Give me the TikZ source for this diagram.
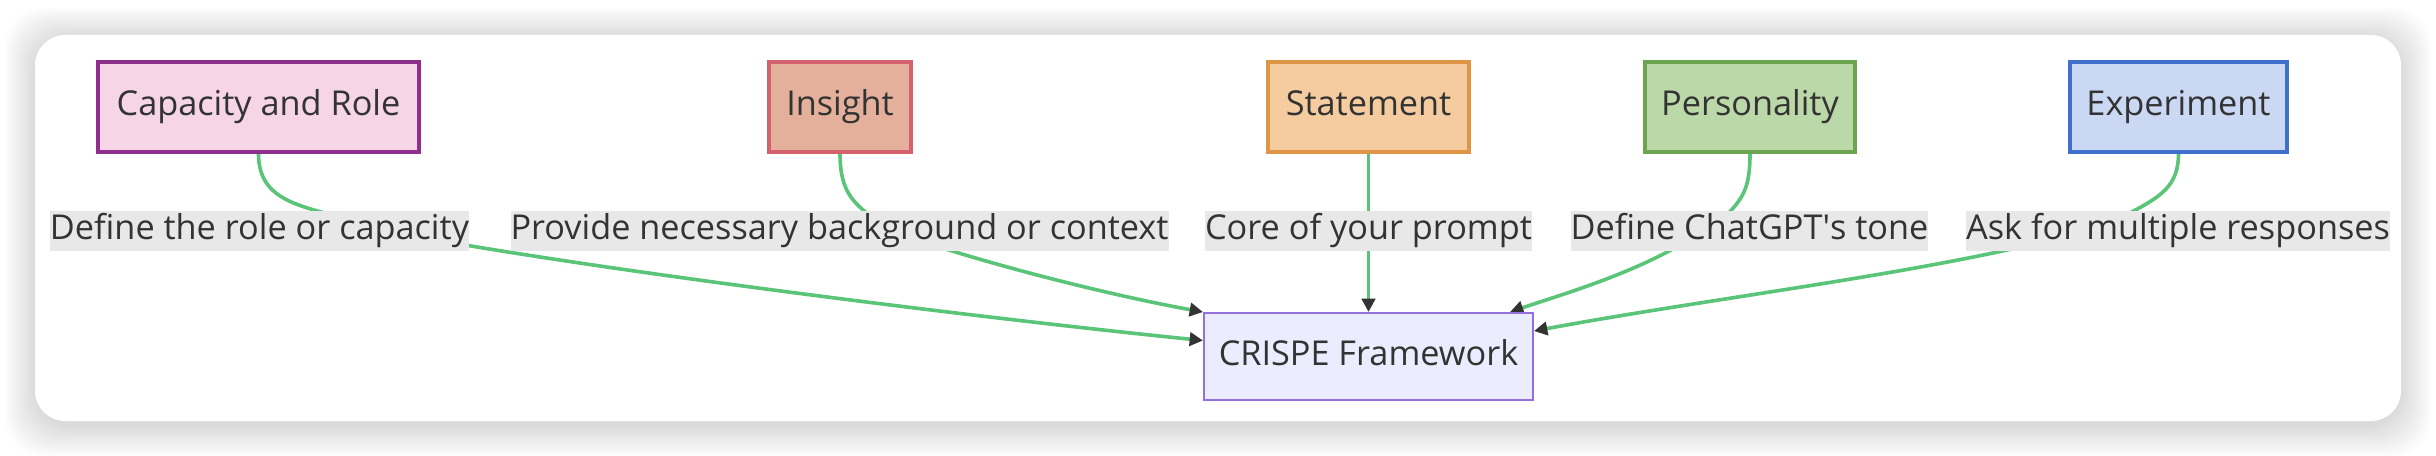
\documentclass[tikz,border=0pt]{standalone}
\usepackage{fontspec}
\setmainfont{Open Sans}
\usepackage{tikz}
\usetikzlibrary{calc,arrows.meta,positioning}
\definecolor{txt}{HTML}{333333}
\definecolor{lblbg}{HTML}{E8E8E8}
\definecolor{linkgreen}{RGB}{90,196,120}
\definecolor{tipc}{HTML}{333333}
\definecolor{capD}{RGB}{142,47,140}
\definecolor{capF}{RGB}{245,213,230}
\definecolor{insD}{RGB}{212,98,110}
\definecolor{insF}{RGB}{228,176,155}
\definecolor{staD}{RGB}{222,150,70}
\definecolor{staF}{RGB}{244,204,160}
\definecolor{perD}{RGB}{108,164,80}
\definecolor{perF}{RGB}{187,216,168}
\definecolor{expD}{RGB}{64,112,204}
\definecolor{expF}{RGB}{202,216,244}
\definecolor{criD}{HTML}{9370DB}
\definecolor{criF}{HTML}{ECECFF}
\pgfdeclarelayer{bg}
\pgfdeclarelayer{edgelayer}
\pgfsetlayers{bg,edgelayer,main}
\tikzset{
    box/.style 2 args={
    rectangle,draw=#1,fill=#2,line width=2.4pt,text=txt,
    minimum height=67.5pt,inner sep=0pt,text height=18pt,text depth=5pt,
    font=\fontsize{25.7}{30}\selectfont
    },
    target/.style={
    rectangle,draw=criD,fill=criF,line width=1.5pt,text=txt,
    minimum width=246.75pt,minimum height=65.25pt,inner sep=0pt,
    text height=18pt,text depth=5pt,font=\fontsize{25.7}{30}\selectfont
    },
    elabel/.style={
    rectangle,fill=lblbg,text=txt,inner xsep=0pt,inner ysep=0pt,
    minimum height=30pt,text height=18pt,text depth=5pt,
    font=\fontsize{25.7}{30}\selectfont
    },
    flow/.style={
    draw=linkgreen,line width=2.7pt,
    -{Triangle[length=10pt,width=10pt,color=tipc]}
    },
}
\begin{document}
\begin{tikzpicture}[x=0.75pt,y=-0.75pt]
   \useasboundingbox (0,0) rectangle (2436,456);

   %frame with soft shadow
   \begin{pgfonlayer}{bg}
   \fill[white] (0,0) rectangle (2436,456);
   \foreach \i in {1,...,18}
     \fill[black,opacity=0.007,rounded corners=30pt]
       (35-1.7*\i,38-1.7*\i) rectangle (2401+1.7*\i,426+1.7*\i);
   \fill[white,rounded corners=22.5pt] (35,35) rectangle (2401,421);
   \end{pgfonlayer}

   %sources
   \node[box={capD}{capF},minimum width=240.75pt] (capacity) at (258.5,107) {Capacity and Role};
   \node[box={insD}{insF},minimum width=106.5pt] (insight) at (840,107) {Insight};
   \node[box={staD}{staF},minimum width=150.75pt] (statement) at (1368.5,107) {Statement};
   \node[box={perD}{perF},minimum width=157.5pt] (personality) at (1750,107) {Personality};
   \node[box={expD}{expF},minimum width=162.75pt] (experiment) at (2178.5,107) {Experiment};

   %target
   \node[target] (crispe) at (1368.5,356.5) {CRISPE Framework};

   %edge labels
   \node[elabel] (lcap) at (259.5,231) {Define the role or capacity};
   \node[elabel] (lins) at (839.5,231) {Provide necessary background or context};
   \node[elabel] (lsta) at (1368.5,231) {Core of your prompt};
   \node[elabel] (lper) at (1749.5,231) {Define ChatGPT\textquotesingle s tone};
   \node[elabel] (lexp) at (2178,231) {Ask for multiple responses};

   %links
   \begin{pgfonlayer}{edgelayer}
   \draw[flow] (capacity.south) .. controls +(0,38) and (285,202) .. (321,212)
      -- (430,239) .. controls (640,276) and (1000,320) .. ($(crispe.west)+(0,-16)$);
   \draw[flow] (insight.south) .. controls +(0,33) and (850,200) .. (868,214)
      -- (930,244) .. controls (1010,270) and (1120,297) .. (crispe.north west);
   \draw[flow] (statement.south) -- (lsta) -- (crispe.north);
   \draw[flow] (personality.south) .. controls +(0,36) and (1742,198) .. (1728,214)
      -- (1685,242) .. controls (1630,275) and (1560,295) .. ($(crispe.north east)+(-24,0)$);
   \draw[flow] (experiment.south) .. controls +(0,33) and (2160,197) .. (2128,214)
      -- (2050,240) .. controls (1910,275) and (1700,300) .. ($(crispe.east)+(0,-25.5)$);
   \end{pgfonlayer}
\end{tikzpicture}
\end{document}
